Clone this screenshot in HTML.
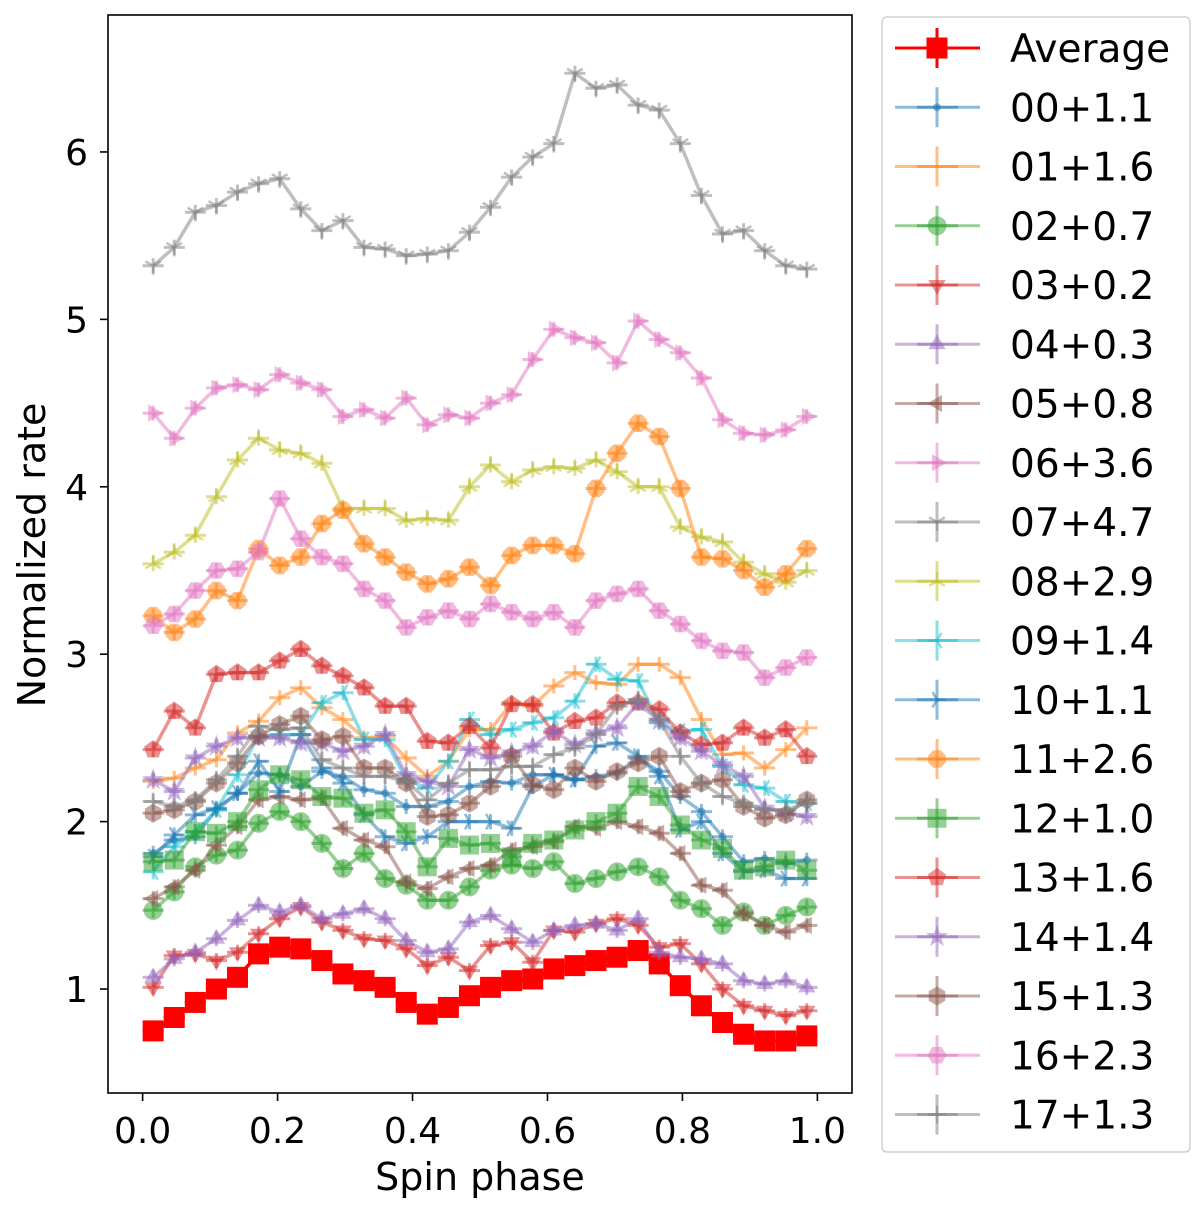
<!DOCTYPE html>
<html><head><meta charset="utf-8"><style>
body{margin:0;background:#fff;}
svg text{font-family:"DejaVu Sans","Liberation Sans",sans-serif;}
</style></head><body>
<svg id="chart" width="1200" height="1200" viewBox="0 0 1200 1200" xmlns="http://www.w3.org/2000/svg">
<rect width="1200" height="1200" fill="#fff"/>
<g id="plot"></g>
<rect x="108" y="15" width="744" height="1078" fill="none" stroke="#000" stroke-width="1.6"/>
<g id="axes"></g>
<text x="480" y="1190" font-size="38" text-anchor="middle">Spin phase</text>
<text transform="translate(45,555) rotate(-90)" font-size="38" text-anchor="middle">Normalized rate</text>
<g id="legend"></g>
</svg>
<script>
const xTicks=[0.0,0.2,0.4,0.6,0.8,1.0];
const xTickLabels=["0.0","0.2","0.4","0.6","0.8","1.0"];
const yTicks=[1,2,3,4,5,6];
const yTickLabels=["1","2","3","4","5","6"];
const seriesLabels=["Average","00+1.1","01+1.6","02+0.7","03+0.2","04+0.3","05+0.8","06+3.6","07+4.7","08+2.9","09+1.4","10+1.1","11+2.6","12+1.0","13+1.6","14+1.4","15+1.3","16+2.3","17+1.3"];
const avg=[0.75,0.83,0.92,1.00,1.07,1.21,1.25,1.24,1.17,1.09,1.05,1.01,0.92,0.85,0.89,0.96,1.01,1.05,1.06,1.12,1.14,1.17,1.19,1.23,1.15,1.02,0.90,0.80,0.73,0.69,0.69,0.72];
const s00=[1.81,1.89,1.91,2.07,2.17,2.29,2.28,2.21,2.30,2.27,2.19,2.17,2.09,2.09,2.12,2.21,2.24,2.23,2.28,2.28,2.25,2.27,2.29,2.38,2.30,2.15,2.06,1.91,1.76,1.78,1.75,1.77];
const s01=[2.24,2.26,2.32,2.37,2.53,2.60,2.74,2.80,2.68,2.61,2.50,2.51,2.38,2.27,2.36,2.55,2.55,2.71,2.69,2.81,2.89,2.83,2.82,2.94,2.94,2.86,2.61,2.40,2.41,2.32,2.43,2.56];
const s02=[1.47,1.58,1.73,1.80,1.83,1.99,2.06,2.00,1.87,1.72,1.81,1.66,1.62,1.53,1.53,1.61,1.71,1.74,1.72,1.76,1.63,1.66,1.70,1.73,1.67,1.53,1.48,1.38,1.46,1.38,1.44,1.49];
const s03=[1.01,1.20,1.21,1.17,1.22,1.33,1.42,1.49,1.40,1.35,1.30,1.29,1.24,1.14,1.19,1.11,1.26,1.28,1.16,1.35,1.34,1.39,1.42,1.38,1.25,1.27,1.15,1.00,0.90,0.87,0.84,0.87];
const s04=[1.07,1.18,1.22,1.30,1.41,1.50,1.46,1.50,1.42,1.45,1.48,1.42,1.29,1.22,1.24,1.40,1.44,1.36,1.28,1.35,1.38,1.39,1.35,1.42,1.22,1.19,1.18,1.15,1.05,1.03,1.05,1.01];
const s05=[1.54,1.61,1.71,1.86,1.97,2.13,2.15,2.13,2.14,1.96,1.89,1.85,1.64,1.60,1.67,1.72,1.74,1.83,1.85,1.88,1.97,1.96,2.00,1.97,1.93,1.81,1.62,1.59,1.45,1.38,1.34,1.38];
const s06=[4.44,4.29,4.47,4.59,4.61,4.58,4.67,4.62,4.58,4.42,4.46,4.41,4.53,4.37,4.43,4.41,4.50,4.55,4.76,4.94,4.89,4.86,4.74,4.99,4.88,4.80,4.65,4.40,4.32,4.31,4.34,4.42];
const s07=[5.32,5.43,5.64,5.68,5.76,5.81,5.84,5.66,5.53,5.59,5.43,5.42,5.38,5.39,5.41,5.52,5.67,5.85,5.97,6.05,6.47,6.38,6.40,6.28,6.25,6.05,5.74,5.51,5.53,5.41,5.32,5.30];
const s08=[3.54,3.61,3.71,3.94,4.16,4.29,4.22,4.20,4.14,3.87,3.87,3.87,3.80,3.81,3.80,4.00,4.13,4.03,4.10,4.12,4.11,4.16,4.09,4.00,4.00,3.76,3.70,3.67,3.55,3.48,3.43,3.50];
const s09=[1.70,1.85,1.94,2.07,2.28,2.51,2.52,2.52,2.71,2.77,2.49,2.49,2.25,2.20,2.36,2.61,2.52,2.55,2.59,2.62,2.72,2.94,2.85,2.84,2.59,2.54,2.55,2.33,2.22,2.20,2.12,2.11];
const s10=[1.79,1.92,2.04,2.08,2.17,2.36,2.18,2.52,2.32,2.23,2.04,1.91,1.87,1.91,2.00,2.00,2.00,1.96,2.21,2.28,2.25,2.45,2.47,2.39,2.27,1.95,2.00,1.81,1.70,1.71,1.66,1.66];
const s11=[3.23,3.13,3.21,3.38,3.32,3.63,3.53,3.58,3.78,3.86,3.66,3.58,3.49,3.42,3.45,3.52,3.41,3.59,3.65,3.65,3.60,3.99,4.20,4.38,4.30,3.99,3.58,3.57,3.50,3.40,3.48,3.63];
const s12=[1.76,1.77,1.94,1.93,2.00,2.19,2.28,2.25,2.15,2.14,2.05,2.07,1.94,1.73,1.90,1.86,1.87,1.79,1.87,1.89,1.95,2.00,2.05,2.21,2.15,1.98,1.89,1.84,1.71,1.73,1.77,1.71];
const s13=[2.43,2.66,2.56,2.88,2.89,2.89,2.96,3.03,2.93,2.87,2.80,2.69,2.69,2.48,2.47,2.57,2.44,2.70,2.70,2.53,2.60,2.62,2.71,2.71,2.67,2.53,2.46,2.47,2.56,2.50,2.55,2.39];
const s14=[2.25,2.18,2.38,2.45,2.50,2.50,2.50,2.47,2.47,2.42,2.45,2.52,2.28,2.24,2.21,2.43,2.38,2.41,2.45,2.54,2.46,2.53,2.56,2.71,2.60,2.50,2.42,2.34,2.27,2.08,2.05,2.03];
const s15=[2.05,2.07,2.12,2.23,2.35,2.51,2.58,2.63,2.49,2.51,2.32,2.32,2.23,2.03,2.04,2.11,2.21,2.39,2.22,2.19,2.32,2.24,2.30,2.35,2.39,2.18,2.23,2.25,2.09,2.02,2.04,2.13];
const s16=[3.17,3.24,3.38,3.50,3.51,3.61,3.93,3.69,3.58,3.54,3.39,3.32,3.16,3.22,3.26,3.21,3.30,3.25,3.21,3.25,3.16,3.32,3.36,3.39,3.26,3.18,3.08,3.02,3.01,2.86,2.92,2.98];
const s17=[2.12,2.09,2.13,2.25,2.39,2.57,2.55,2.56,2.37,2.32,2.27,2.27,2.24,2.13,2.23,2.31,2.31,2.33,2.33,2.40,2.44,2.52,2.69,2.73,2.61,2.39,2.23,2.15,2.11,2.07,2.07,2.11];
const yErr=0.045;

const allSeries=[avg,s00,s01,s02,s03,s04,s05,s06,s07,s08,s09,s10,s11,s12,s13,s14,s15,s16,s17];
const colors=["#ff0000","#1f77b4","#ff7f0e","#2ca02c","#d62728","#9467bd","#8c564b","#e377c2","#7f7f7f","#bcbd22","#17becf","#1f77b4","#ff7f0e","#2ca02c","#d62728","#9467bd","#8c564b","#e377c2","#7f7f7f"];
const markers=["s",".",",","o","v","^","<",">","1","2","3","4","8","s","p","*","h","H","+"];
const NS="http://www.w3.org/2000/svg";
const X0=108,X1=852,Y0=15,Y1=1093;
const xMin=-0.0513,xMax=1.0513,yMin=0.379,yMax=6.818;
function xs(v){return X0+(v-xMin)/(xMax-xMin)*(X1-X0);}
function ys(v){return Y1-(v-yMin)/(yMax-yMin)*(Y1-Y0);}
function mk(tag,attrs,parent){const e=document.createElementNS(NS,tag);for(const k in attrs)e.setAttribute(k,attrs[k]);parent.appendChild(e);return e;}
function poly(n,r,rot){let p=[];for(let k=0;k<n;k++){const a=rot+k*2*Math.PI/n;p.push((r*Math.cos(a)).toFixed(2)+","+(r*Math.sin(a)).toFixed(2));}return p.join(" ");}
function star(r){let p=[];for(let k=0;k<10;k++){const a=-Math.PI/2+k*Math.PI/5;const rr=k%2?r*0.4:r;p.push((rr*Math.cos(a)).toFixed(2)+","+(rr*Math.sin(a)).toFixed(2));}return p.join(" ");}
function drawMarker(g,m,cx,cy,col,big,op){
  const gg=mk('g',{transform:`translate(${cx},${cy})`,opacity:op},g);
  const r=big?10:9;
  const fill={fill:col,stroke:col,'stroke-width':1};
  if(m==='s'){mk('rect',Object.assign({x:-r,y:-r,width:2*r,height:2*r},fill),gg);}
  else if(m==='.'){mk('circle',Object.assign({r:3.5},fill),gg);}
  else if(m===','){}
  else if(m==='o'){mk('circle',Object.assign({r:r},fill),gg);}
  else if(m==='v'){mk('polygon',Object.assign({points:poly(3,r,Math.PI/2)},fill),gg);}
  else if(m==='^'){mk('polygon',Object.assign({points:poly(3,r,-Math.PI/2)},fill),gg);}
  else if(m==='<'){mk('polygon',Object.assign({points:poly(3,r,Math.PI)},fill),gg);}
  else if(m==='>'){mk('polygon',Object.assign({points:poly(3,r,0)},fill),gg);}
  else if(m==='8'){mk('polygon',Object.assign({points:poly(8,r,Math.PI/8)},fill),gg);}
  else if(m==='p'){mk('polygon',Object.assign({points:poly(5,r,-Math.PI/2)},fill),gg);}
  else if(m==='*'){mk('polygon',Object.assign({points:star(r+1)},fill),gg);}
  else if(m==='h'){mk('polygon',Object.assign({points:poly(6,r,-Math.PI/2)},fill),gg);}
  else if(m==='H'){mk('polygon',Object.assign({points:poly(6,r,0)},fill),gg);}
  else if(m==='+'){mk('path',{d:`M${-r},0H${r}M0,${-r}V${r}`,stroke:col,'stroke-width':2.5,fill:'none'},gg);}
  else {
    const rot={'1':Math.PI/2,'2':-Math.PI/2,'3':Math.PI,'4':0}[m];
    let d='';for(let k=0;k<3;k++){const a=rot+k*2*Math.PI/3;d+=`M0,0L${(r*Math.cos(a)).toFixed(2)},${(r*Math.sin(a)).toFixed(2)}`;}
    mk('path',{d:d,stroke:col,'stroke-width':2.5,fill:'none'},gg);
  }
}
const plot=document.getElementById('plot');
const nb=avg.length;
allSeries.forEach((data,si)=>{
  const op=si===0?1:0.5;
  const g=mk('g',{},plot);
  
  
  const col=colors[si];
  const pts=data.map((v,i)=>[xs((i+0.5)/nb),ys(v)]);
  const line=mk('polyline',{points:pts.map(p=>p[0].toFixed(1)+','+p[1].toFixed(1)).join(' '),fill:'none',stroke:col,'stroke-width':3.5,'stroke-linejoin':'round',opacity:op},g);
  
  
  data.forEach((v,i)=>{
    const xc=(i+0.5)/nb;
    const eb=mk('path',{d:`M${xs(xc-0.5/nb).toFixed(1)},${ys(v).toFixed(1)}H${xs(xc+0.5/nb).toFixed(1)}M${xs(xc).toFixed(1)},${ys(v-yErr).toFixed(1)}V${ys(v+yErr).toFixed(1)}`,stroke:col,'stroke-width':3,fill:'none',opacity:op},g);
    
    
    drawMarker(g,markers[si],xs(xc),ys(v),col,si===0,op);
  });
});
const axes=document.getElementById('axes');
xTicks.forEach((t,i)=>{
  const x=xs(t);
  const tk=mk('line',{x1:x,x2:x,y1:Y1,y2:Y1+8,stroke:'#000','stroke-width':1.6},axes);
  
  
  const tl=mk('text',{x:x,y:1143,'font-size':36,'text-anchor':'middle'},axes);
  tl.textContent=xTickLabels[i];
  
  
});
yTicks.forEach((t,i)=>{
  const y=ys(t);
  const tk=mk('line',{x1:X0-8,x2:X0,y1:y,y2:y,stroke:'#000','stroke-width':1.6},axes);
  
  
  const tl=mk('text',{x:88,y:y+13,'font-size':36,'text-anchor':'end'},axes);
  tl.textContent=yTickLabels[i];
  
  
});
const leg=document.getElementById('legend');
const box=mk('rect',{x:882,y:17,width:308,height:1135,rx:5,fill:'#fff',stroke:'#d0d0d0','stroke-width':1.5},leg);


seriesLabels.forEach((lab,si)=>{
  const cy=48+si*59.25;
  const op=si===0?1:0.5;
  const g=mk('g',{},leg);
  
  
  const col=colors[si];
  mk('line',{x1:895,x2:980,y1:cy,y2:cy,stroke:col,'stroke-width':3,opacity:op},g);
  mk('line',{x1:917,x2:958,y1:cy,y2:cy,stroke:col,'stroke-width':3,opacity:op},g);
  mk('line',{x1:937,x2:937,y1:cy-20,y2:cy+20,stroke:col,'stroke-width':3,opacity:op},g);
  drawMarker(g,markers[si],937,cy,col,si===0,op);
  const t=mk('text',{x:1010,y:cy+14,'font-size':39},g);
  t.textContent=lab;
});
</script>
</body></html>
